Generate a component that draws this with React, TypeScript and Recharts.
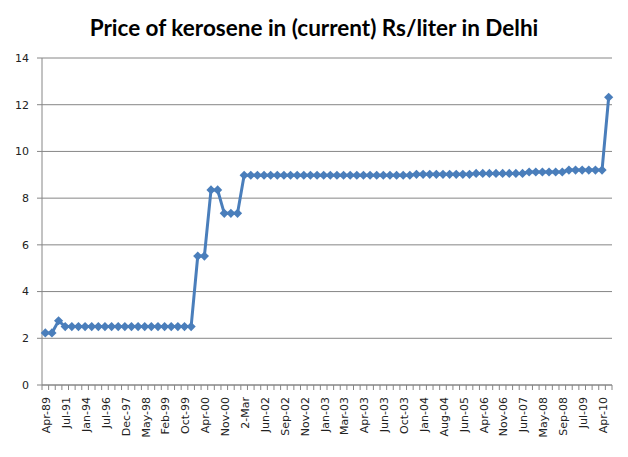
import React from "react";
import { CartesianGrid, Line, LineChart, XAxis, YAxis } from "recharts";

// Every third category carries a label (Excel auto-skip)
const TICK_LABELS = [
  "Apr-89", "Jul-91", "Jan-94", "Jul-96", "Dec-97", "May-98", "Feb-99", "Oct-99",
  "Apr-00", "Nov-00", "2-Mar", "Jun-02", "Sep-02", "Nov-02", "Jan-03", "Mar-03",
  "Apr-03", "Jun-03", "Oct-03", "Jan-04", "Aug-04", "Jun-05", "Apr-06", "Nov-06",
  "Jun-07", "May-08", "Sep-08", "Jul-09", "Apr-10",
];

// Rs/liter, one value per revision
const PRICES = [
  2.23, 2.23, 2.75, 2.5, 2.5, 2.5, 2.5, 2.5, 2.5, 2.5,
  2.5, 2.5, 2.5, 2.5, 2.5, 2.5, 2.5, 2.5, 2.5, 2.5,
  2.5, 2.5, 2.5, 5.52, 5.52, 8.35, 8.35, 7.35, 7.35, 7.35,
  8.98, 8.98, 8.98, 8.98, 8.98, 8.98, 8.98, 8.98, 8.98, 8.98,
  8.98, 8.98, 8.98, 8.98, 8.98, 8.98, 8.98, 8.98, 8.98, 8.98,
  8.98, 8.98, 8.98, 8.98, 8.98, 8.98, 9.02, 9.02, 9.02, 9.02,
  9.02, 9.02, 9.02, 9.02, 9.02, 9.06, 9.06, 9.06, 9.06, 9.06,
  9.06, 9.06, 9.06, 9.12, 9.12, 9.12, 9.12, 9.12, 9.12, 9.2,
  9.2, 9.2, 9.2, 9.2, 9.2, 12.32,
];

const Y_TICKS = [0, 2, 4, 6, 8, 10, 12, 14];

const W = 628;
const H = 457;
const X_AXIS_H = 30;
const MARGIN = { top: 58, right: 16, bottom: 72 - X_AXIS_H, left: 0 };
const Y_AXIS_W = 42;
const BAND = (W - MARGIN.left - MARGIN.right - Y_AXIS_W) / PRICES.length;

const AXIS_GRAY = "#868686";
const LINE_BLUE = "#4a7ebb";
const FONT = "'DejaVu Sans', Verdana, sans-serif";

const data = PRICES.map((price, i) => ({
  idx: i,
  label: i % 3 === 0 ? TICK_LABELS[i / 3] : "",
  price,
}));

function Diamond(props: any) {
  const { cx, cy, index } = props;
  const r = 4.6;
  return (
    <path
      key={`d-${index}`}
      d={`M${cx},${cy - r}L${cx + r},${cy}L${cx},${cy + r}L${cx - r},${cy}Z`}
      fill={LINE_BLUE}
      stroke="none"
    />
  );
}

// Excel-style: tick marks sit on category boundaries, labels on centres
function XTick(props: any) {
  const { x, y, payload } = props;
  const i = payload.value as number;
  const label = data[i]?.label ?? "";
  const left = x - BAND / 2;
  return (
    <g>
      <line x1={left} y1={y} x2={left} y2={y + 5} stroke={AXIS_GRAY} />
      {i === PRICES.length - 1 && (
        <line x1={x + BAND / 2} y1={y} x2={x + BAND / 2} y2={y + 5} stroke={AXIS_GRAY} />
      )}
      {label && (
        <text
          transform={`translate(${x + 1},${y + 12}) rotate(-90)`}
          textAnchor="end"
          dy="0.35em"
          fontSize={11}
          fontFamily={FONT}
          fill="#222"
        >
          {label}
        </text>
      )}
    </g>
  );
}

export default function App() {
  return (
    <div style={{ position: "absolute", left: 0, top: 0, width: W, height: H, background: "#fff" }}>
      <div
        style={{
          position: "absolute",
          left: 0,
          top: 14,
          width: W,
          textAlign: "center",
          fontFamily: "Lato, 'Open Sans', sans-serif",
          fontWeight: 700,
          fontSize: 22.5,
          color: "#000",
          lineHeight: "28px",
        }}
      >
        Price of kerosene in (current) Rs/liter in Delhi
      </div>
      <LineChart width={W} height={H} data={data} margin={MARGIN}>
        <CartesianGrid vertical={false} stroke={AXIS_GRAY} strokeDasharray="" />
        <XAxis
          dataKey="idx"
          type="category"
          scale="band"
          interval={0}
          height={X_AXIS_H}
          tick={<XTick />}
          tickLine={false}
          tickSize={0}
          tickMargin={0}
          axisLine={{ stroke: AXIS_GRAY }}
        />
        <YAxis
          width={Y_AXIS_W}
          domain={[0, 14]}
          ticks={Y_TICKS}
          interval={0}
          tickSize={5}
          tickMargin={8}
          tickLine={{ stroke: AXIS_GRAY }}
          axisLine={{ stroke: AXIS_GRAY }}
          tick={{ fill: "#222", fontSize: 11, fontFamily: FONT }}
        />
        <Line
          type="linear"
          dataKey="price"
          stroke={LINE_BLUE}
          strokeWidth={3}
          dot={Diamond}
          activeDot={false}
          isAnimationActive={false}
        />
      </LineChart>
    </div>
  );
}
